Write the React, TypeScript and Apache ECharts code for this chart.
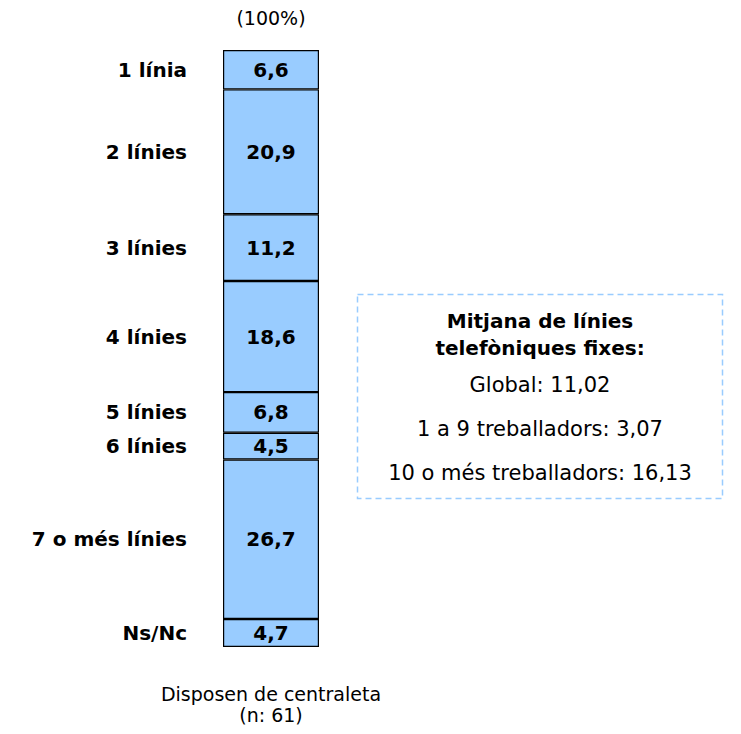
import React, { useEffect, useRef } from "react";
import * as echarts from "echarts";

const segmentNames = ["1 línia", "2 línies", "3 línies", "4 línies", "5 línies", "6 línies", "7 o més línies", "Ns/Nc"];
const segmentValues = [6.6, 20.9, 11.2, 18.6, 6.8, 4.5, 26.7, 4.7];
const categoryLabel = ["Disposen de centraleta\n(n: 61)"];
const totalLabel = "(100%)";
const boxTitle = "Mitjana de línies\ntelefòniques fixes:";
const boxLines = ["Global: 11,02", "1 a 9 treballadors: 3,07", "10 o més treballadors: 16,13"];

const FONT = "DejaVu Sans";

export default function App() {
  const ref = useRef<HTMLDivElement>(null);
  useEffect(() => {
    if (!ref.current) return;
    const chart = echarts.init(ref.current, undefined, { renderer: "svg" });
    const order = segmentNames.map((_, i) => i).reverse();
    const valueSeries = order.map((i) => ({
      type: "bar",
      name: segmentNames[i],
      stack: "v",
      barWidth: "100%",
      data: [segmentValues[i]],
      itemStyle: { color: "#99CCFF", borderColor: "#000", borderWidth: 1.2 },
      label: {
        show: true,
        position: "inside",
        formatter: (p: any) => String(p.value).replace(".", ","),
        fontFamily: FONT,
        fontWeight: "bold",
        fontSize: 20,
        color: "#000",
      },
      silent: true,
    }));
    const nameSeries = order.map((i) => ({
      type: "bar",
      name: segmentNames[i] + " ",
      stack: "n",
      barWidth: "100%",
      barGap: "-100%",
      data: [segmentValues[i]],
      itemStyle: { color: "rgba(0,0,0,0)", borderWidth: 0 },
      label: {
        show: true,
        position: "left",
        distance: 36,
        formatter: segmentNames[i],
        fontFamily: FONT,
        fontWeight: "bold",
        fontSize: 20,
        color: "#000",
      },
      silent: true,
    }));
    chart.setOption({
      animation: false,
      grid: { left: 215, width: 96, top: 42, bottom: 79 },
      xAxis: {
        type: "category",
        data: categoryLabel,
        axisLine: { show: false },
        axisTick: { show: false },
        axisLabel: {
          margin: 36,
          fontFamily: FONT,
          fontSize: 19,
          color: "#000",
          lineHeight: 21,
        },
      },
      yAxis: {
        type: "value",
        min: 0,
        max: 100,
        show: false,
      },
      series: [...valueSeries, ...nameSeries],
      graphic: [
        {
          type: "text",
          x: 263,
          y: 10,
          style: {
            text: totalLabel,
            fontFamily: FONT,
            fontSize: 19,
            fill: "#000",
            align: "center",
            verticalAlign: "middle",
          },
        },
        {
          type: "rect",
          shape: { x: 349.5, y: 286.5, width: 365, height: 204 },
          style: { fill: "none", stroke: "#99CCFF", lineWidth: 1.5, lineDash: [6, 4] },
        },
        {
          type: "text",
          x: 532,
          y: 326,
          style: {
            text: boxTitle,
            fontFamily: FONT,
            fontWeight: "bold",
            fontSize: 20,
            lineHeight: 27,
            fill: "#000",
            align: "center",
            verticalAlign: "middle",
          },
        },
        ...boxLines.map((t, k) => ({
          type: "text",
          x: 532,
          y: 377 + k * 44,
          style: {
            text: t,
            fontFamily: FONT,
            fontSize: 21,
            fill: "#000",
            align: "center",
            verticalAlign: "middle",
          },
        })),
      ],
    });
    return () => chart.dispose();
  }, []);
  return <div ref={ref} style={{ width: 725, height: 718 }} />;
}
